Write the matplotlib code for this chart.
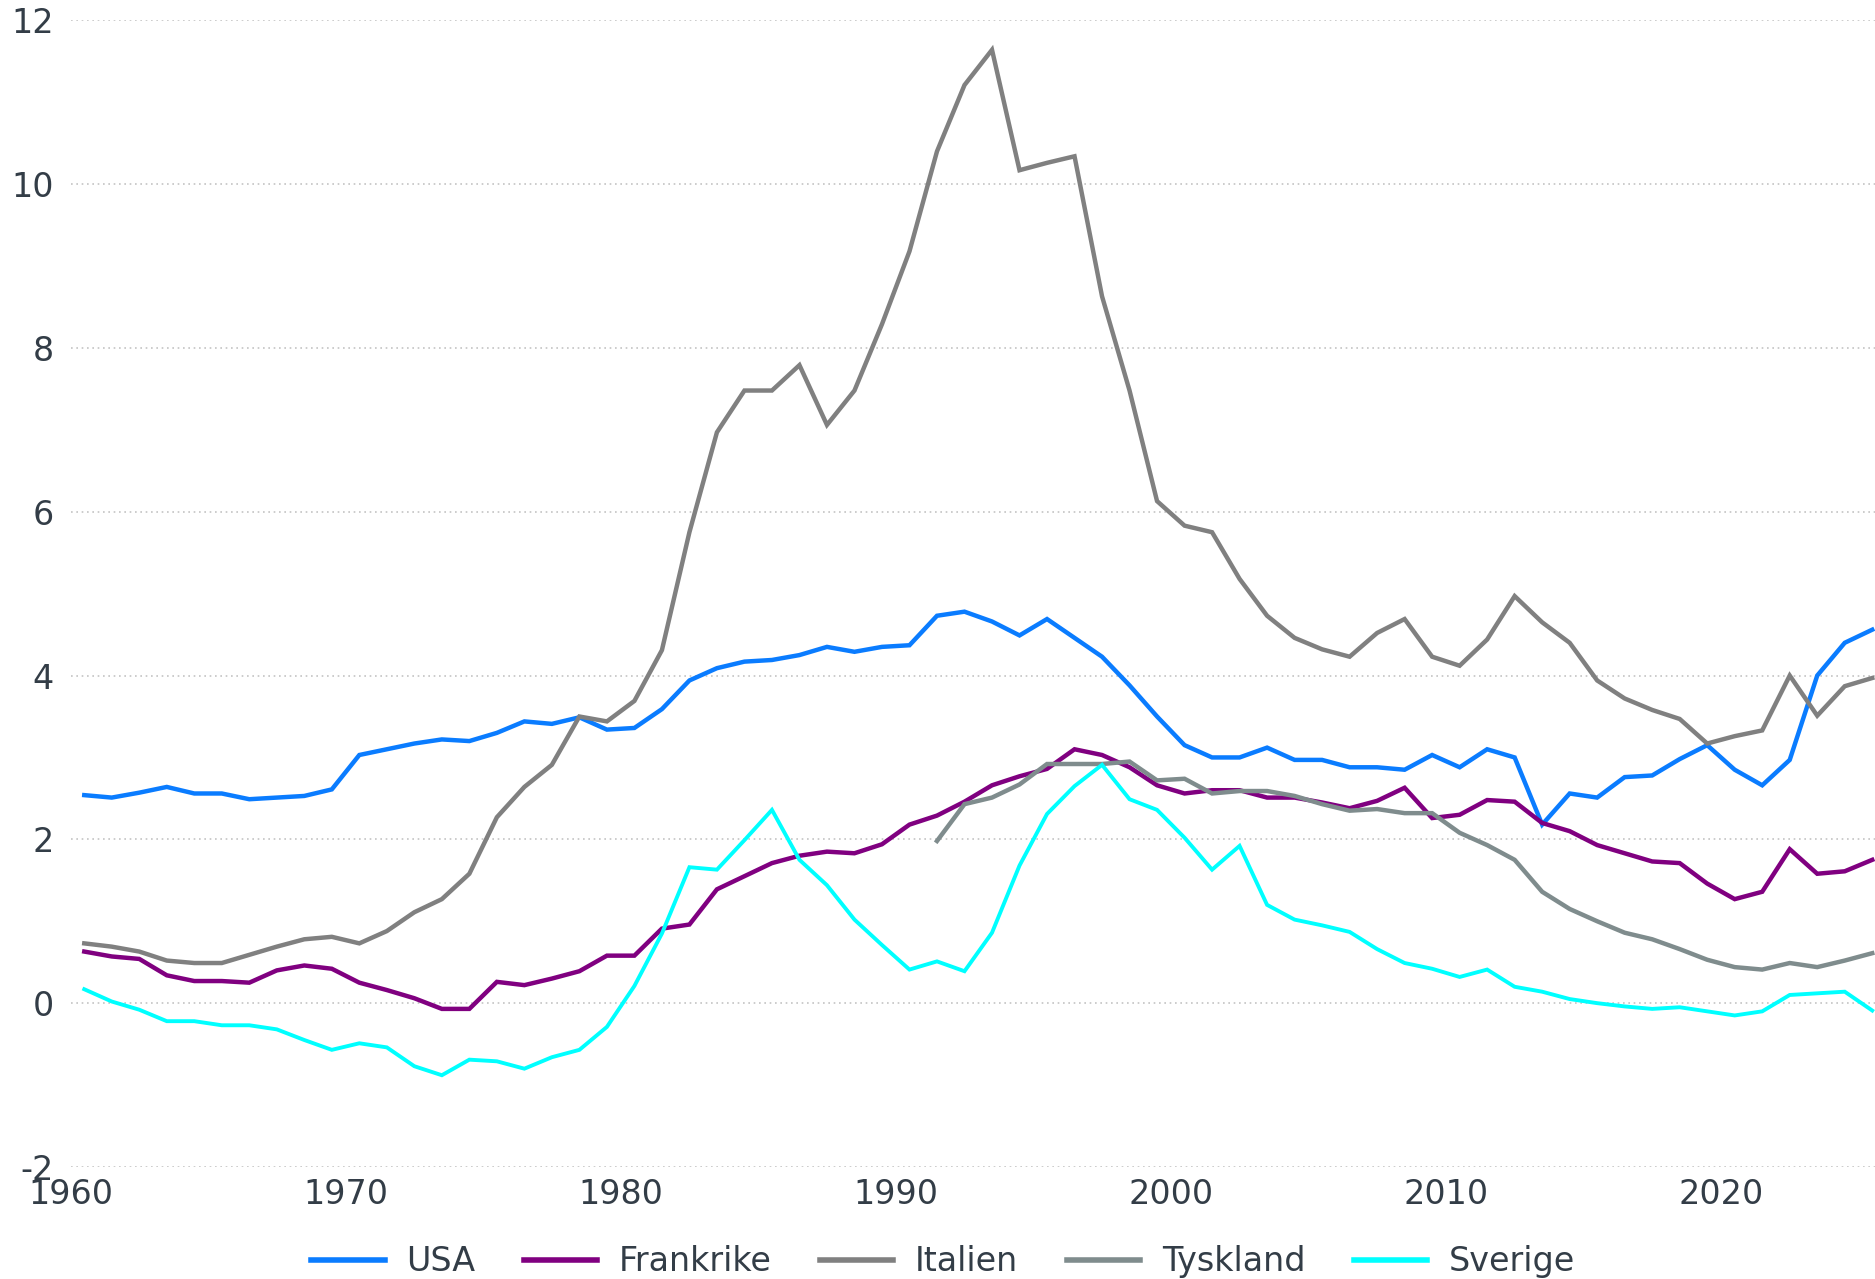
import numpy as np
import matplotlib
matplotlib.use("Agg")
import matplotlib.pyplot as plt

plt.rcParams["font.family"] = ["DejaVu Sans"]
plt.rcParams["axes.unicode_minus"] = False

# --- data ---
years = list(range(1960, 2026))
years_tyskland = list(range(1991, 2026))

usa = [2.54, 2.51, 2.57, 2.64, 2.56, 2.56, 2.49, 2.51, 2.53, 2.61,
       3.03, 3.10, 3.17, 3.22, 3.20, 3.30, 3.44, 3.41, 3.49, 3.34,
       3.36, 3.59, 3.94, 4.09, 4.17, 4.19, 4.25, 4.35, 4.29, 4.35,
       4.37, 4.73, 4.78, 4.66, 4.49, 4.69, 4.46, 4.23, 3.88, 3.50,
       3.15, 3.00, 3.00, 3.12, 2.97, 2.97, 2.88, 2.88, 2.85, 3.03,
       2.88, 3.10, 3.00, 2.18, 2.56, 2.51, 2.76, 2.78, 2.98, 3.15,
       2.85, 2.66, 2.97, 4.00, 4.40, 4.56]

frankrike = [0.63, 0.57, 0.54, 0.34, 0.27, 0.27, 0.25, 0.40, 0.46, 0.42,
             0.25, 0.16, 0.06, -0.07, -0.07, 0.26, 0.22, 0.30, 0.39, 0.58,
             0.58, 0.91, 0.96, 1.39, 1.55, 1.71, 1.80, 1.85, 1.83, 1.94,
             2.18, 2.29, 2.46, 2.66, 2.77, 2.86, 3.10, 3.03, 2.88, 2.66,
             2.56, 2.60, 2.60, 2.51, 2.51, 2.45, 2.38, 2.47, 2.63, 2.26,
             2.30, 2.48, 2.46, 2.20, 2.10, 1.93, 1.83, 1.73, 1.71, 1.46,
             1.27, 1.36, 1.88, 1.58, 1.61, 1.75]

italien = [0.73, 0.69, 0.63, 0.52, 0.49, 0.49, 0.59, 0.69, 0.78, 0.81,
           0.73, 0.88, 1.11, 1.27, 1.58, 2.27, 2.64, 2.91, 3.50, 3.44,
           3.69, 4.31, 5.75, 6.97, 7.48, 7.48, 7.79, 7.06, 7.48, 8.29,
           9.18, 10.40, 11.21, 11.64, 10.17, 10.26, 10.34, 8.63, 7.48, 6.13,
           5.83, 5.75, 5.18, 4.73, 4.46, 4.32, 4.23, 4.52, 4.69, 4.23,
           4.12, 4.44, 4.97, 4.65, 4.40, 3.94, 3.72, 3.58, 3.47, 3.17,
           3.26, 3.33, 4.00, 3.51, 3.87, 3.97]

tyskland = [1.98, 2.43, 2.51, 2.67, 2.92, 2.92, 2.92, 2.95, 2.72,
            2.74, 2.56, 2.59, 2.59, 2.53, 2.43, 2.35, 2.37, 2.32, 2.32,
            2.08, 1.93, 1.75, 1.36, 1.15, 1.00, 0.86, 0.78, 0.66, 0.53,
            0.44, 0.41, 0.49, 0.44, 0.52, 0.61]

sverige = [0.17, 0.02, -0.08, -0.22, -0.22, -0.27, -0.27, -0.32, -0.45, -0.57,
           -0.49, -0.54, -0.77, -0.88, -0.69, -0.71, -0.80, -0.66, -0.57, -0.29,
           0.21, 0.85, 1.66, 1.63, 1.99, 2.36, 1.75, 1.44, 1.02, 0.71,
           0.41, 0.51, 0.39, 0.86, 1.68, 2.31, 2.65, 2.91, 2.49, 2.36,
           2.02, 1.63, 1.92, 1.20, 1.02, 0.95, 0.87, 0.66, 0.49, 0.42,
           0.32, 0.41, 0.20, 0.14, 0.05, 0.00, -0.04, -0.07, -0.05, -0.10,
           -0.15, -0.10, 0.10, 0.12, 0.14, -0.09]

series = [
    ("USA", years, usa, "#0a7cff", 3.2),
    ("Frankrike", years, frankrike, "#800080", 3.2),
    ("Italien", years, italien, "#808080", 3.2),
    ("Tyskland", years_tyskland, tyskland, "#7f8c8d", 3.2),
    ("Sverige", years, sverige, "#00ffff", 2.8),
]

text_color = "#333d47"

fig = plt.figure(figsize=(18.75, 12.79), dpi=100)
ax = fig.add_axes([0.0376, 0.0876, 0.9624, 0.8965])

for name, xs, ys, color, lw in series:
    # data points sit at mid-year
    ax.plot(np.array(xs) + 0.5, ys, color=color, linewidth=lw,
            label=name, solid_joinstyle="miter")

ax.set_xlim(1960, 2025.6)
ax.set_ylim(-2, 12)
ax.set_yticks(range(-2, 13, 2))
ax.set_xticks(range(1960, 2021, 10))

ax.grid(axis="y", color="#c4c4c4", linestyle=(0, (1, 2.2)), linewidth=1.2)
ax.grid(axis="x", visible=False)
ax.set_axisbelow(True)
for spine in ax.spines.values():
    spine.set_visible(False)

ax.tick_params(axis="both", length=0, labelsize=24, labelcolor=text_color)
ax.tick_params(axis="y", pad=12)
ax.tick_params(axis="x", pad=8)

leg = fig.legend(loc="center", bbox_to_anchor=(0.503, 0.0135), ncol=5,
                 frameon=False, fontsize=24, handlelength=2.2,
                 handletextpad=0.65, columnspacing=1.45)
for txt in leg.get_texts():
    txt.set_color(text_color)
for line in leg.get_lines():
    line.set_linewidth(4.0)

plt.savefig("out.png", dpi=100)
plt.close(fig)
